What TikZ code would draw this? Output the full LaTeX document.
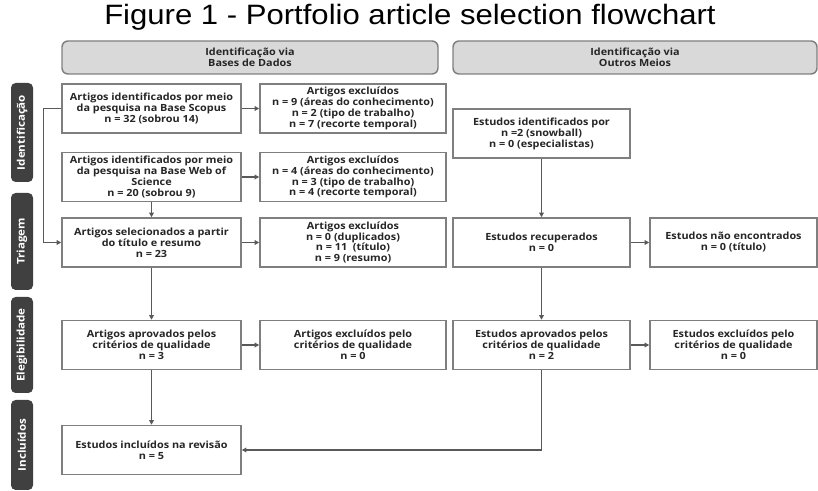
\documentclass[tikz,border=0pt]{standalone}
\usepackage{fontspec}
\setmainfont{Open Sans}[FakeStretch=1.1]
\newfontfamily\titleFam{Liberation Sans}
\usetikzlibrary{arrows.meta, calc, positioning}

\definecolor{boxGray}{HTML}{7F7F7F}
\definecolor{lineGray}{HTML}{595959}
\definecolor{headGray}{HTML}{D9D9D9}
\definecolor{phaseDark}{HTML}{404040}
\definecolor{textDark}{HTML}{262626}

\newcommand\boxFont{\fontsize{7.4}{8.2}\selectfont\bfseries}
\newcommand\phaseFont{\fontsize{7.9}{8}\selectfont\bfseries}

\tikzset{
  boxNode/.style = {draw=boxGray, line width=1.1pt, fill=white, align=center,
    text=textDark, font=\boxFont, inner sep=1pt, minimum height=36.75pt},
  headNode/.style = {draw=boxGray, line width=1.1pt, fill=headGray, align=center,
    rounded corners=4.5pt, text=textDark, font=\boxFont, minimum height=24.75pt},
  phaseNode/.style = {fill=phaseDark, rounded corners=3.5pt, text=white,
    font=\phaseFont, rotate=90, minimum height=16.5pt, inner sep=0pt},
  arrowLine/.style = {draw=lineGray, line width=0.85pt,
    -{Triangle[length=3.5pt,width=3.5pt]}}
}

\begin{document}
\begin{tikzpicture}[x=0.75pt, y=-0.75pt]
  \useasboundingbox (0,0) rectangle (818,491);

  \node[font=\titleFam\fontsize{21}{23}\selectfont, xscale=1.11] (title) at (410,17) {Figure 1 - Portfolio article selection flowchart};

  \node[headNode, minimum width=282pt] (headBases) at (250,57.5) {Identificação via\\Bases de Dados};
  \node[headNode, minimum width=273pt] (headOutros) at (635,57.5) {Identificação via\\Outros Meios};

  \node[phaseNode, minimum width=74.25pt] (phIdent) at (22,132.5) {Identificação};
  \node[phaseNode, minimum width=72.75pt] (phTriagem) at (22,241.5) {Triagem};
  \node[phaseNode, minimum width=72pt] (phEleg) at (22,345) {Elegibilidade};
  \node[phaseNode, minimum width=67.5pt] (phIncl) at (22,445) {Incluídos};

  % bases de dados
  \edef\colD{201.5}
  \node[boxNode, minimum width=134.25pt] (artScopus) at (151.5,108.5) {Artigos identificados por meio\\da pesquisa na Base Scopus\\n = 32 (sobrou 14)};
  \node[boxNode, minimum width=134.25pt] (artWos) at ($(artScopus) + (0,68.5)$) {Artigos identificados por meio\\da pesquisa na Base Web of\\Science\\n = 20 (sobrou 9)};
  \node[boxNode, minimum width=134.25pt] (artSelec) at ($(artScopus) + (0,134)$) {Artigos selecionados a partir\\do título e resumo\\n = 23};
  \node[boxNode, minimum width=134.25pt] (artAprov) at ($(artScopus) + (0,236.5)$) {Artigos aprovados pelos\\critérios de qualidade\\n = 3};
  \node[boxNode, minimum width=134.25pt] (estIncl) at ($(artScopus) + (0,341.5)$) {Estudos incluídos na revisão\\n = 5};

  \node[boxNode, minimum width=139.5pt] (exclScopus) at ($(artScopus) + (\colD,0)$) {Artigos excluídos\\n = 9 (áreas do conhecimento)\\n = 2 (tipo de trabalho)\\n = 7 (recorte temporal)};
  \node[boxNode, minimum width=139.5pt] (exclWos) at ($(artWos) + (\colD,0)$) {Artigos excluídos\\n = 4 (áreas do conhecimento)\\n = 3 (tipo de trabalho)\\n = 4 (recorte temporal)};
  \node[boxNode, minimum width=139.5pt] (exclSelec) at ($(artSelec) + (\colD,0)$) {Artigos excluídos\\n = 0 (duplicados)\\n = 11~~(título)\\n = 9 (resumo)};
  \node[boxNode, minimum width=139.5pt] (exclAprov) at ($(artAprov) + (\colD,0)$) {Artigos excluídos pelo\\critérios de qualidade\\n = 0};

  \draw[arrowLine] (artScopus.east) -- (exclScopus.west);
  \draw[arrowLine] (artWos.east) -- (exclWos.west);
  \draw[arrowLine] (artSelec.east) -- (exclSelec.west);
  \draw[arrowLine] (artAprov.east) -- (exclAprov.west);
  \draw[arrowLine] (artScopus.west) -- ++(-18,0) |- (artSelec.west);
  \draw[arrowLine] (artWos.south) -- (artSelec.north);
  \draw[arrowLine] (artSelec.south) -- (artAprov.north);
  \draw[arrowLine] (artAprov.south) -- (estIncl.north);

  % outros meios
  \edef\colR{192}
  \node[boxNode, minimum width=132.75pt] (estIdent) at (541.5,133.5) {Estudos identificados por\\n =2 (snowball)\\n = 0 (especialistas)};
  \node[boxNode, minimum width=132.75pt] (estRecup) at (541.5,242.5) {Estudos recuperados\\n = 0};
  \node[boxNode, minimum width=132.75pt] (estAprov) at (541.5,345) {Estudos aprovados pelos\\critérios de qualidade\\n = 2};
  \node[boxNode, minimum width=125.25pt] (estNaoEnc) at ($(estRecup) + (\colR,0)$) {Estudos não encontrados\\n = 0 (título)};
  \node[boxNode, minimum width=125.25pt] (estExcl) at ($(estAprov) + (\colR,0)$) {Estudos excluídos pelo\\critérios de qualidade\\n = 0};

  \draw[arrowLine] (estIdent.south) -- (estRecup.north);
  \draw[arrowLine] (estRecup.east) -- (estNaoEnc.west);
  \draw[arrowLine] (estRecup.south) -- (estAprov.north);
  \draw[arrowLine] (estAprov.east) -- (estExcl.west);
  \draw[arrowLine] (estAprov.south) |- (estIncl.east);

\end{tikzpicture}
\end{document}
